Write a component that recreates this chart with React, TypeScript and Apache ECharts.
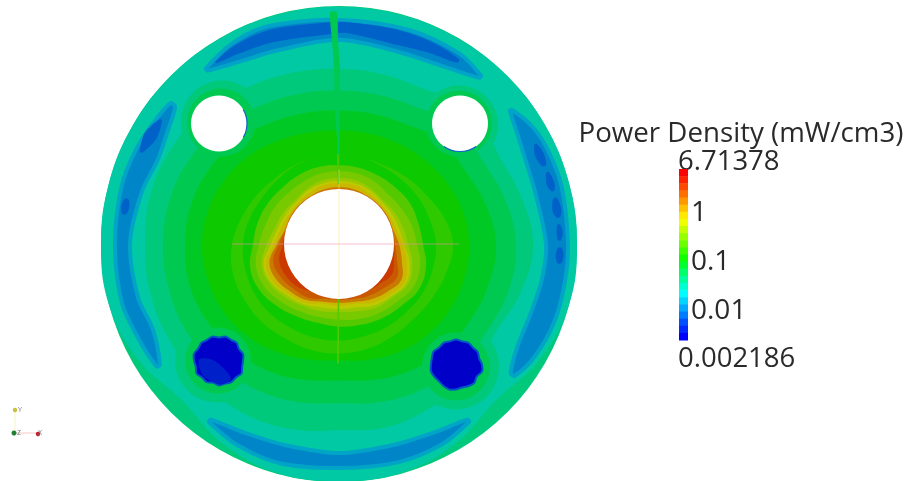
import React, { useEffect, useRef } from "react";
import * as echarts from "echarts";

const titleText = "Power Density (mW/cm3)";
const maxValue = 6.71378;
const minValue = 0.002186;
const tickLabels = [1, 0.1, 0.01];

// legend colours, top to bottom of the bar
const legendColors = [
  "#ff0000", "#ff2200", "#ff4800", "#ff7000", "#ff9800", "#ffc000", "#ffe800", "#f0ff00",
  "#c4ff00", "#98ff00", "#6cff00", "#3cff00", "#10ff00", "#00ff30", "#00ff68", "#00ff9c",
  "#00ffd0", "#00fcff", "#00d4ff", "#00a8ff", "#007cff", "#0050ff", "#0028ff", "#0000ff",
];

// contour radii read at these directions (degrees, counter-clockwise from east)
const contourAngles = [0, 15, 30, 45, 60, 75, 90, 105, 120, 135, 150, 165, 180, 195, 210, 225, 240, 255, 270, 285, 300, 315, 330, 345];
const rimValue = 0.037;
const discRadius = [238, 238, 238, 238, 238, 238, 238, 238, 238, 238, 238, 238, 238, 238, 238, 238, 238, 238, 238, 238, 238, 238, 238, 238];
const tealValue = 0.027;
const tealRadius = [238, 238, 238, 238, 238, 238, 238, 238, 238, 238, 238, 238, 238, 238, 232, 222, 232, 238, 238, 238, 232, 222, 232, 238];

const contourValues = [0.037, 0.052, 0.072, 0.1, 0.14, 0.1, 0.2, 0.28, 0.39, 0.54, 0.75, 1.5, 2.1, 2.9];
const contourRadii = [
  [194, 188, 183, 195, 178, 176, 176, 178, 182, 190, 193, 195, 194, 195, 195, 195, 195, 192, 187, 190, 188, 190, 180, 188],
  [177, 172, 166, 168, 158, 155, 154, 156, 160, 168, 172, 175, 176, 176, 176, 172, 168, 164, 160, 164, 168, 172, 172, 176],
  [157, 152, 146, 146, 138, 135, 134, 136, 140, 146, 150, 153, 154, 155, 153, 150, 146, 141, 137, 141, 146, 150, 152, 155],
  [130, 128, 124, 120, 117, 115, 114, 116, 120, 126, 131, 135, 137, 136, 134, 130, 125, 120, 117, 120, 124, 127, 129, 130],
  [114, 108, 100, 95, 91, 90, 90, 90, 91, 92, 96, 101, 107, 110, 110, 110, 109, 110, 110, 109, 107, 106, 108, 111],
  [97, 94, 92, 90, 89, 90, 90, 90, 90, 89, 90, 93, 96, 97, 98, 98, 97, 97, 97, 96, 96, 96, 97, 97],
  [84, 82, 82, 80, 79, 79, 79, 80, 80, 80, 82, 84, 86, 92, 92, 88, 84, 82, 83, 84, 86, 88, 92, 90],
  [78, 75, 72, 70, 72, 73, 73, 73, 72, 72, 74, 76, 80, 86, 86, 82, 78, 76, 76, 78, 80, 82, 86, 84],
  [69, 66, 64, 62, 64, 66, 66, 66, 64, 62, 64, 66, 72, 80, 80, 76, 72, 70, 68, 70, 74, 76, 80, 76],
  [65, 62, 61, 60, 62, 63, 63, 63, 62, 60, 61, 63, 68, 78, 78, 73, 70, 66, 65, 66, 71, 74, 78, 73],
  [64, 59, 58, 58, 59, 61, 61, 61, 59, 58, 58, 60, 65, 76, 76, 71, 68, 62, 62, 62, 68, 72, 76, 70],
  [60, 56, 56, 56, 56, 57, 57, 57, 56, 56, 56, 56, 62, 72, 72, 68, 65, 60, 59, 60, 64, 68, 72, 65],
  [56, 55, 55, 55, 55, 55, 55, 55, 55, 55, 55, 55, 60, 68, 67, 64, 62, 57, 56, 57, 60, 63, 67, 60],
  [55, 55, 55, 55, 55, 55, 55, 55, 55, 55, 55, 55, 56, 62, 62, 60, 55, 55, 55, 55, 55, 57, 61, 57],
];

// low-power arcs: [direction, outer radius, inner radius]
const blueValue = 0.01;
const blueArcs = [
  [[38, 219, 217], [32, 226, 210], [25, 229, 205], [15, 230, 203], [0, 229, 207], [-10, 229, 206], [-20, 229, 204], [-30, 226, 206], [-37, 220, 215]],
  [[50, 221, 218], [58, 226, 208], [72, 226, 202], [90, 225, 205], [108, 230, 204], [118, 228, 208], [127, 221, 218]],
  [[140, 220, 214], [147, 222, 205], [155, 224, 200], [165, 225, 204], [180, 224, 209], [195, 225, 208], [205, 222, 205], [214, 220, 216]],
  [[234, 221, 218], [243, 226, 212], [255, 228, 209], [270, 225, 210], [285, 227, 209], [297, 226, 212], [306, 221, 218]],
];
const darkValue = 0.0072;
const darkArcs = [
  [[57, 221, 217], [65, 223, 212], [75, 223, 208], [88, 223, 212], [92, 223, 211], [108, 226, 213], [118, 225, 216], [124, 221, 219]],
  [[145, 219, 216], [150, 224, 211], [155, 220, 217]],
  [[27, 222, 219], [24, 224, 215], [21, 222, 218]],
  [[19, 222, 219], [16, 224, 216], [14, 222, 219]],
  [[12, 223, 219], [9, 225, 216], [7, 223, 219]],
  [[5, 222, 219], [3, 224, 218], [1, 222, 219]],
  [[-1, 223, 219], [-3, 225, 217], [-5, 223, 219]],
  [[172, 219, 215], [170, 221, 213], [168, 219, 215]],
];

// circles: [x, y, radius, value]
const outerHalos = [
  [-117, 123, 41, 0.037],
  [120, 120, 39, 0.037],
  [-122, -117, 42, 0.037],
  [117, -123, 43, 0.037],
];
const innerHalos = [
  [-118, 122, 34, 0.052],
  [120, 121, 33, 0.052],
  [-121, -117, 33, 0.052],
  [117, -123, 34, 0.052],
];
const holeCircles = [
  [0, 0, 55],
  [-120, 121, 28],
  [121, 121, 28],
];
// cool plugs: centre, then radius at each contour direction
const plugCentres = [[-120, -117], [117, -121]];
const plugValue = 0.0027;
const plugRadii = [
  [24, 25, 23, 25, 24, 25, 23, 25, 24, 25, 24, 26, 25, 24, 26, 24, 25, 23, 25, 24, 25, 24, 26, 24],
  [26, 24, 25, 24, 25, 24, 25, 24, 25, 24, 26, 25, 25, 26, 25, 24, 25, 26, 25, 24, 25, 26, 24, 27],
];
const plugPatch = [[-140, -116], [-125, -117], [-108, -135], [-118, -141], [-136, -132]];
const plugPatchValue = 0.0037;

// seam along the vertical centre line: [x, y]
const seamTop = [[-9, 233], [-7, 205], [-5, 175], [-4, 135], [-2, 105], [-1, 70], [0, 70], [1, 105], [0, 135], [1, 175], [-1, 205], [-2, 233]];
const seamTopValue = 0.052;
const seamLines = [
  [[-1, 90], [-0.5, 60]],
  [[-0.5, -55], [-1, -120]],
];
const seamLineValue = 0.2;
const hairlines = [
  { from: [-107, 0], to: [120, 0], color: "rgba(240,140,165,0.55)" },
  { from: [0, 75], to: [0, -55], color: "rgba(235,230,120,0.5)" },
];
// blue rims on the two open holes: [hole, start, end] degrees on screen
const holeRims = [[1, -30, 30], [2, 55, 125]];

const logMax = Math.log10(maxValue);
const logMin = Math.log10(minValue);
const bandOf = (v: number) => {
  const i = Math.floor(((logMax - Math.log10(v)) / (logMax - logMin)) * legendColors.length);
  return Math.max(0, Math.min(legendColors.length - 1, i));
};
const shade = 0.79;
const litColor = (v: number) => {
  const c = legendColors[bandOf(v)];
  const p = [1, 3, 5].map((k) => Math.round(parseInt(c.slice(k, k + 2), 16) * shade));
  return `rgb(${p[0]},${p[1]},${p[2]})`;
};
const polar = (deg: number, r: number, cx = 0, cy = 0) => [
  cx + r * Math.cos((deg * Math.PI) / 180),
  cy + r * Math.sin((deg * Math.PI) / 180),
];
const ring = (radii: number[], cx = 0, cy = 0) => contourAngles.map((a, i) => polar(a, radii[i], cx, cy));
const arcPts = (rows: number[][]) => [
  ...rows.map((r) => polar(r[0], r[1])),
  ...rows.slice().reverse().map((r) => polar(r[0], r[2])),
];

type Shape =
  | { kind: "poly"; pts: number[][]; fill: string; smooth?: number; stroke?: string; lw?: number }
  | { kind: "circle"; c: number[]; r: number; fill: string }
  | { kind: "line"; pts: number[][]; stroke: string; lw: number }
  | { kind: "arc"; c: number[]; r: number; a0: number; a1: number; stroke: string; lw: number };

const shapes: Shape[] = [];
shapes.push({ kind: "circle", c: [0, 0], r: discRadius[0], fill: litColor(rimValue) });
shapes.push({ kind: "poly", pts: ring(tealRadius), fill: litColor(tealValue), smooth: 0.4 });
blueArcs.forEach((rows) =>
  shapes.push({ kind: "poly", pts: arcPts(rows), fill: litColor(blueValue), smooth: 0.3, stroke: "#00a4c6", lw: 4 }),
);
darkArcs.forEach((rows) => shapes.push({ kind: "poly", pts: arcPts(rows), fill: litColor(darkValue), smooth: 0.3 }));
outerHalos.forEach((h) => shapes.push({ kind: "circle", c: [h[0], h[1]], r: h[2], fill: litColor(h[3]) }));
contourRadii.forEach((radii, i) =>
  shapes.push({ kind: "poly", pts: ring(radii), fill: litColor(contourValues[i]), smooth: 0.4 }),
);
innerHalos.forEach((h) => shapes.push({ kind: "circle", c: [h[0], h[1]], r: h[2], fill: litColor(h[3]) }));
plugCentres.forEach((c, i) =>
  shapes.push({ kind: "poly", pts: ring(plugRadii[i], c[0], c[1]), fill: litColor(plugValue), smooth: 0.3, stroke: "#0058c2", lw: 2 }),
);
shapes.push({ kind: "poly", pts: plugPatch, fill: litColor(plugPatchValue), smooth: 0.3 });
shapes.push({ kind: "poly", pts: seamTop, fill: litColor(seamTopValue), smooth: 0.2 });
seamLines.forEach((pts) => shapes.push({ kind: "line", pts, stroke: litColor(seamLineValue), lw: 1.5 }));
holeCircles.forEach((h) => shapes.push({ kind: "circle", c: [h[0], h[1]], r: h[2], fill: "#ffffff" }));
holeRims.forEach((h) => {
  const c = holeCircles[h[0]];
  shapes.push({ kind: "arc", c: [c[0], c[1]], r: c[2], a0: h[1], a1: h[2], stroke: "#1060c8", lw: 1.2 });
});
hairlines.forEach((l) => shapes.push({ kind: "line", pts: [l.from, l.to], stroke: l.color, lw: 1 }));

const renderShape = (params: any, api: any) => {
  const s = shapes[params.dataIndex];
  const unit = api.size([1, 0])[0];
  if (s.kind === "circle") {
    const p = api.coord(s.c);
    return { type: "circle", shape: { cx: p[0], cy: p[1], r: s.r * unit }, style: { fill: s.fill } };
  }
  if (s.kind === "poly") {
    return {
      type: "polygon",
      shape: { points: s.pts.map((q) => api.coord(q)), smooth: s.smooth || 0 },
      style: { fill: s.fill, stroke: s.stroke, lineWidth: s.lw || 0, lineJoin: "round" },
    };
  }
  if (s.kind === "line") {
    return {
      type: "polyline",
      shape: { points: s.pts.map((q) => api.coord(q)) },
      style: { fill: "none", stroke: s.stroke, lineWidth: s.lw },
    };
  }
  const p = api.coord(s.c);
  return {
    type: "arc",
    shape: {
      cx: p[0],
      cy: p[1],
      r: s.r * unit,
      startAngle: (s.a0 * Math.PI) / 180,
      endAngle: (s.a1 * Math.PI) / 180,
    },
    style: { fill: "none", stroke: s.stroke, lineWidth: s.lw },
  };
};

const legendData = legendColors.map((_, i) => {
  const n = legendColors.length;
  const hi = Math.pow(10, logMax - ((logMax - logMin) * i) / n);
  const lo = Math.pow(10, logMax - ((logMax - logMin) * (i + 1)) / n);
  return [lo, hi];
});

const FONT = "Open Sans";
const TITLE_COLOR = "#2a2a2a";

export default function App() {
  const ref = useRef<HTMLDivElement>(null);
  useEffect(() => {
    const chart = echarts.init(ref.current!, undefined, { renderer: "svg" });
    chart.setOption({
      animation: false,
      backgroundColor: "#ffffff",
      grid: [
        { left: 101, top: 7, width: 476, height: 476 },
        { left: 679, top: 169, width: 9, height: 171 },
      ],
      xAxis: [
        { gridIndex: 0, type: "value", min: -238, max: 238, show: false },
        { gridIndex: 1, type: "value", min: 0, max: 1, show: false },
      ],
      yAxis: [
        { gridIndex: 0, type: "value", min: -238, max: 238, show: false },
        {
          gridIndex: 1,
          type: "log",
          logBase: 10,
          min: minValue,
          max: maxValue,
          position: "right",
          axisLine: { show: false },
          axisTick: { show: false },
          splitLine: { show: false },
          axisLabel: {
            show: true,
            showMinLabel: false,
            showMaxLabel: false,
            margin: 3,
            fontSize: 28,
            fontFamily: FONT,
            color: TITLE_COLOR,
            padding: [9, 0, 0, 0],
            formatter: (v: number) => {
              const m = tickLabels.find((t) => Math.abs(Math.log10(v) - Math.log10(t)) < 1e-6);
              return m === undefined ? "" : String(m);
            },
          },
        },
      ],
      series: [
        {
          type: "custom",
          xAxisIndex: 0,
          yAxisIndex: 0,
          clip: false,
          silent: true,
          renderItem: renderShape,
          data: shapes.map((_, i) => [0, 0, i]),
        },
        {
          type: "custom",
          xAxisIndex: 1,
          yAxisIndex: 1,
          silent: true,
          encode: { y: [0, 1] },
          renderItem: (params: any, api: any) => {
            const a = api.coord([0, api.value(1)]);
            const b = api.coord([1, api.value(0)]);
            return {
              type: "rect",
              shape: { x: a[0], y: a[1], width: b[0] - a[0], height: b[1] - a[1] + 0.5 },
              style: { fill: legendColors[params.dataIndex] },
            };
          },
          data: legendData,
        },
      ],
      graphic: [
        { type: "text", x: 741, y: 130.5, style: { text: titleText, fill: TITLE_COLOR, font: `27.7px "${FONT}"`, textAlign: "center", textVerticalAlign: "middle" } },
        { type: "text", x: 678, y: 159, style: { text: String(maxValue), fill: TITLE_COLOR, font: `27.5px "${FONT}"`, textAlign: "left", textVerticalAlign: "middle" } },
        { type: "text", x: 678, y: 356, style: { text: String(minValue), fill: TITLE_COLOR, font: `27.5px "${FONT}"`, textAlign: "left", textVerticalAlign: "middle" } },
        { type: "line", shape: { x1: 15, y1: 433, x2: 38, y2: 433 }, style: { stroke: "#f4c8c8", lineWidth: 1 } },
        { type: "line", shape: { x1: 15, y1: 409, x2: 15, y2: 433 }, style: { stroke: "#f6f6c8", lineWidth: 1 } },
        { type: "circle", shape: { cx: 15, cy: 410, r: 2.2 }, style: { fill: "#c8c040" } },
        { type: "circle", shape: { cx: 14, cy: 433, r: 2.5 }, style: { fill: "#208030" } },
        { type: "circle", shape: { cx: 38, cy: 434, r: 2.2 }, style: { fill: "#c02030" } },
        { type: "text", x: 18, y: 406, style: { text: "Y", fill: "#777777", font: `7px "${FONT}"` } },
        { type: "text", x: 17, y: 429, style: { text: "Z", fill: "#777777", font: `7px "${FONT}"` } },
        { type: "text", x: 38, y: 429, style: { text: "X", fill: "#777777", font: `7px "${FONT}"` } },
      ],
    });
    return () => chart.dispose();
  }, []);
  return (
    <div
      ref={ref}
      style={{ position: "absolute", left: 0, top: 0, width: 908, height: 481, overflow: "hidden", filter: "blur(0.6px)" }}
    />
  );
}
